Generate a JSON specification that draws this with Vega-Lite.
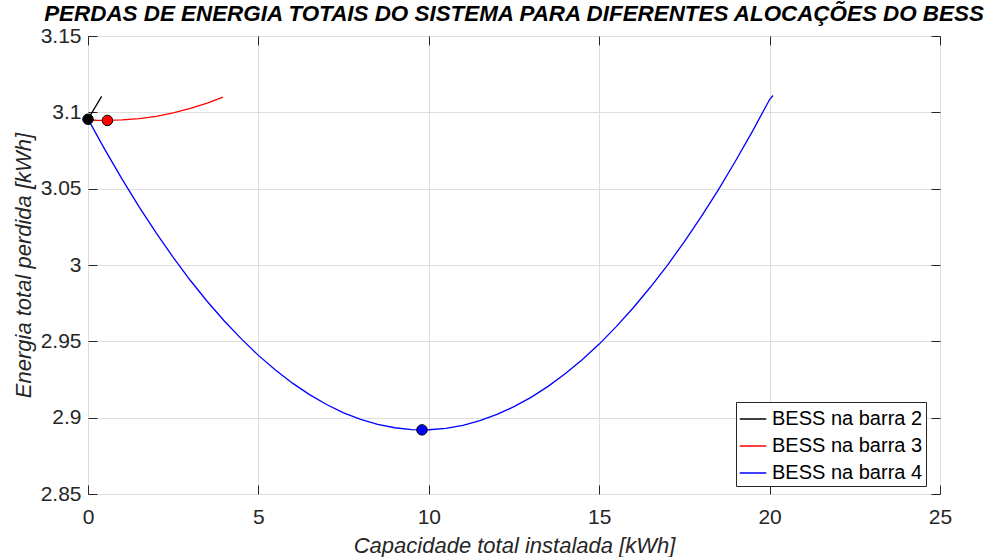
{
  "$schema": "https://vega.github.io/schema/vega-lite/v6.json",
  "width": 852,
  "height": 458,
  "autosize": "none",
  "padding": {"left": 88, "top": 36, "right": 59, "bottom": 63},
  "background": "white",
  "title": {
    "text": "PERDAS DE ENERGIA TOTAIS DO SISTEMA PARA DIFERENTES ALOCAÇÕES DO BESS",
    "font": "Liberation Sans",
    "fontSize": 22.4,
    "fontWeight": "bold",
    "fontStyle": "italic",
    "color": "#000000",
    "anchor": "middle",
    "offset": 6,
    "dy": 6.5
  },
  "config": {
    "font": "Liberation Sans",
    "view": {"stroke": "#262626", "strokeWidth": 1},
    "axis": {
      "labelFont": "Liberation Sans",
      "labelFontSize": 21,
      "labelColor": "#262626",
      "labelFlush": false,
      "labelOverlap": false,
      "titleFont": "Liberation Sans",
      "titleFontSize": 22,
      "titleFontStyle": "italic",
      "titleFontWeight": "normal",
      "titleColor": "#262626",
      "domain": false,
      "tickColor": "#262626",
      "tickSize": -9,
      "gridColor": "#dedede",
      "gridWidth": 1
    }
  },
  "datasets": {
    "curvas": [
      {"serie": "BESS na barra 2", "cap": 0, "perda": 3.0955},
      {"serie": "BESS na barra 2", "cap": 0.4, "perda": 3.1105},
      {"serie": "BESS na barra 3", "cap": 0, "perda": 3.0951},
      {"serie": "BESS na barra 3", "cap": 0.25, "perda": 3.0948},
      {"serie": "BESS na barra 3", "cap": 0.56, "perda": 3.0947},
      {"serie": "BESS na barra 3", "cap": 1, "perda": 3.095},
      {"serie": "BESS na barra 3", "cap": 1.5, "perda": 3.0959},
      {"serie": "BESS na barra 3", "cap": 2, "perda": 3.0974},
      {"serie": "BESS na barra 3", "cap": 2.5, "perda": 3.0997},
      {"serie": "BESS na barra 3", "cap": 3, "perda": 3.1026},
      {"serie": "BESS na barra 3", "cap": 3.5, "perda": 3.1061},
      {"serie": "BESS na barra 3", "cap": 3.96, "perda": 3.11},
      {"serie": "BESS na barra 4", "cap": 0, "perda": 3.0956},
      {"serie": "BESS na barra 4", "cap": 0.5, "perda": 3.0754},
      {"serie": "BESS na barra 4", "cap": 1, "perda": 3.0562},
      {"serie": "BESS na barra 4", "cap": 1.5, "perda": 3.0381},
      {"serie": "BESS na barra 4", "cap": 2, "perda": 3.021},
      {"serie": "BESS na barra 4", "cap": 2.5, "perda": 3.005},
      {"serie": "BESS na barra 4", "cap": 3, "perda": 2.99},
      {"serie": "BESS na barra 4", "cap": 3.5, "perda": 2.9761},
      {"serie": "BESS na barra 4", "cap": 4, "perda": 2.9633},
      {"serie": "BESS na barra 4", "cap": 4.5, "perda": 2.9516},
      {"serie": "BESS na barra 4", "cap": 5, "perda": 2.9408},
      {"serie": "BESS na barra 4", "cap": 5.5, "perda": 2.9312},
      {"serie": "BESS na barra 4", "cap": 6, "perda": 2.9226},
      {"serie": "BESS na barra 4", "cap": 6.5, "perda": 2.9151},
      {"serie": "BESS na barra 4", "cap": 7, "perda": 2.9086},
      {"serie": "BESS na barra 4", "cap": 7.5, "perda": 2.9032},
      {"serie": "BESS na barra 4", "cap": 8, "perda": 2.8989},
      {"serie": "BESS na barra 4", "cap": 8.5, "perda": 2.8956},
      {"serie": "BESS na barra 4", "cap": 9, "perda": 2.8934},
      {"serie": "BESS na barra 4", "cap": 9.5, "perda": 2.8922},
      {"serie": "BESS na barra 4", "cap": 9.8, "perda": 2.892},
      {"serie": "BESS na barra 4", "cap": 10, "perda": 2.8921},
      {"serie": "BESS na barra 4", "cap": 10.5, "perda": 2.893},
      {"serie": "BESS na barra 4", "cap": 11, "perda": 2.895},
      {"serie": "BESS na barra 4", "cap": 11.5, "perda": 2.898},
      {"serie": "BESS na barra 4", "cap": 12, "perda": 2.9021},
      {"serie": "BESS na barra 4", "cap": 12.5, "perda": 2.9072},
      {"serie": "BESS na barra 4", "cap": 13, "perda": 2.9133},
      {"serie": "BESS na barra 4", "cap": 13.5, "perda": 2.9205},
      {"serie": "BESS na barra 4", "cap": 14, "perda": 2.9287},
      {"serie": "BESS na barra 4", "cap": 14.5, "perda": 2.9379},
      {"serie": "BESS na barra 4", "cap": 15, "perda": 2.9482},
      {"serie": "BESS na barra 4", "cap": 15.5, "perda": 2.9596},
      {"serie": "BESS na barra 4", "cap": 16, "perda": 2.972},
      {"serie": "BESS na barra 4", "cap": 16.5, "perda": 2.9854},
      {"serie": "BESS na barra 4", "cap": 17, "perda": 2.9998},
      {"serie": "BESS na barra 4", "cap": 17.5, "perda": 3.0153},
      {"serie": "BESS na barra 4", "cap": 18, "perda": 3.0319},
      {"serie": "BESS na barra 4", "cap": 18.5, "perda": 3.0494},
      {"serie": "BESS na barra 4", "cap": 19, "perda": 3.0681},
      {"serie": "BESS na barra 4", "cap": 19.5, "perda": 3.0877},
      {"serie": "BESS na barra 4", "cap": 20, "perda": 3.1084},
      {"serie": "BESS na barra 4", "cap": 20.1, "perda": 3.111}
    ],
    "otimos": [
      {"serie": "BESS na barra 2", "cap": 0, "perda": 3.0955},
      {"serie": "BESS na barra 3", "cap": 0.57, "perda": 3.0947},
      {"serie": "BESS na barra 4", "cap": 9.8, "perda": 2.892}
    ]
  },
  "resolve": {"axis": {"x": "independent", "y": "independent"}},
  "layer": [
    {
      "data": {"name": "curvas"},
      "mark": {"type": "line", "strokeWidth": 1.3, "clip": true},
      "encoding": {
        "x": {
          "field": "cap", "type": "quantitative",
          "scale": {"domain": [0, 25], "nice": false, "zero": false},
          "axis": {
            "orient": "bottom",
            "values": [0, 5, 10, 15, 20, 25],
            "format": "d",
            "grid": true,
            "labelPadding": 21,
            "title": "Capacidade total instalada [kWh]",
            "titleX": 426,
            "titleY": 58,
            "titleAnchor": null,
            "titleBaseline": "alphabetic"
          }
        },
        "y": {
          "field": "perda", "type": "quantitative",
          "scale": {"domain": [2.85, 3.15], "nice": false, "zero": false},
          "axis": {
            "orient": "left",
            "values": [2.85, 2.9, 2.95, 3, 3.05, 3.1, 3.15],
            "format": ".2~f",
            "grid": true,
            "labelPadding": 16,
            "title": "Energia total perdida [kWh]",
            "titleX": -58,
            "titleY": 229,
            "titleBaseline": "alphabetic"
          }
        },
        "color": {
          "field": "serie", "type": "nominal",
          "scale": {
            "domain": ["BESS na barra 2", "BESS na barra 3", "BESS na barra 4"],
            "range": ["#000000", "#ff0000", "#0000ff"]
          },
          "legend": {
            "title": null,
            "orient": "none",
            "legendX": 648,
            "legendY": 366,
            "symbolType": "stroke",
            "symbolSize": 700,
            "symbolStrokeWidth": 1.5,
            "labelFont": "Liberation Sans",
            "labelFontSize": 20,
            "labelColor": "#000000",
            "labelOffset": 5,
            "rowPadding": 3,
            "padding": 3,
            "strokeColor": "#262626",
            "fillColor": "#ffffff"
          }
        }
      }
    },
    {
      "data": {"name": "otimos"},
      "mark": {"type": "point", "filled": true, "size": 110, "stroke": "#000000", "strokeWidth": 1, "opacity": 1},
      "encoding": {
        "x": {"field": "cap", "type": "quantitative", "axis": null},
        "y": {"field": "perda", "type": "quantitative", "axis": null},
        "fill": {
          "field": "serie", "type": "nominal",
          "scale": {
            "domain": ["BESS na barra 2", "BESS na barra 3", "BESS na barra 4"],
            "range": ["#000000", "#ff0000", "#0000ff"]
          },
          "legend": null
        }
      }
    },
    {
      "data": {"name": "otimos"},
      "mark": {"type": "point", "opacity": 0},
      "encoding": {
        "x": {
          "field": "cap", "type": "quantitative",
          "axis": {"orient": "top", "values": [0, 5, 10, 15, 20, 25], "labels": false, "grid": false, "title": null}
        },
        "y": {
          "field": "perda", "type": "quantitative",
          "axis": {"orient": "right", "values": [2.85, 2.9, 2.95, 3, 3.05, 3.1, 3.15], "labels": false, "grid": false, "title": null}
        }
      }
    }
  ]
}
